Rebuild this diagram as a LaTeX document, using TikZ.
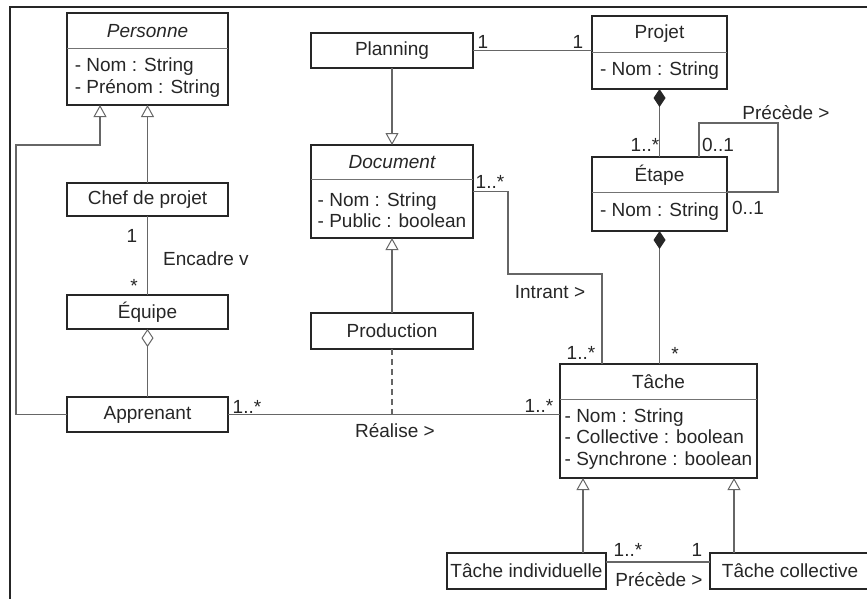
\documentclass[tikz,border=0pt]{standalone}
\usepackage{fontspec}
\setmainfont{Liberation Sans}
\usetikzlibrary{arrows.meta,calc}
\newcommand\mydiagfont{\fontsize{19}{21.5}\selectfont}
\begin{document}
\begin{tikzpicture}[x=1pt,y=-1pt,
  font=\mydiagfont,
  box/.style={draw=black!85, line width=1.7pt, rectangle, inner sep=0pt, outer sep=0pt, text=black!85},
  txt/.style={inner sep=0pt, text=black!85},
  ttl/.style={txt, font=\mydiagfont\itshape},
  attr/.style={txt, align=left},
  sep/.style={draw=black!55, line width=0.9pt},
  conn/.style={draw=black!60, line width=1.1pt},
  gen/.style={conn, -{Triangle[open, length=12pt, width=13pt, line width=1pt]}},
  comp/.style={conn, -{Diamond[length=18pt, width=12pt, color=black!85, fill=black!85]}},
  agg/.style={conn, -{Diamond[open, length=18pt, width=12pt, line width=1pt]}},
  lbl/.style={txt}]
\useasboundingbox (0,0) rectangle (867,598);
% frame
\draw[line width=2pt, black!85] (10,602) -- (10,7) -- (872,7);

% classes
\node[box, minimum width=161pt, minimum height=92pt] (pers) at (147.5,59) {};
\draw[sep] (pers.west |- 0,48) -- (pers.east |- 0,48);
\node[ttl] (persT) at (147.5,31) {Personne};
\node[attr] (persA) at (147.5,77.5) {- Nom : String\\- Prénom : String};

\node[box, minimum width=161pt, minimum height=33pt] (chef) at (147.5,199.5) {Chef de projet};
\node[box, minimum width=161pt, minimum height=34pt] (equipe) at (147.5,312) {Équipe};
\node[box, minimum width=161pt, minimum height=35pt] (app) at (147.5,414.5) {Apprenant};

\node[box, minimum width=162pt, minimum height=35pt] (plan) at (392,50.5) {Planning};
\node[box, minimum width=162pt, minimum height=93pt] (doc) at (392,191.5) {};
\draw[sep] (doc.west |- 0,179) -- (doc.east |- 0,179);
\node[ttl] (docT) at (392,162) {Document};
\node[attr] (docA) at (392,210) {- Nom : String\\- Public : boolean};
\node[box, minimum width=162pt, minimum height=36pt] (prod) at (392,331) {Production};

\node[box, minimum width=135pt, minimum height=73pt] (projet) at (659.5,52.5) {};
\draw[sep] (projet.west |- 0,52) -- (projet.east |- 0,52);
\node[txt] (projetT) at (659.5,34) {Projet};
\node[attr] (projetA) at (659.5,71) {- Nom : String};

\node[box, minimum width=135pt, minimum height=74pt] (etape) at (659.5,194) {};
\draw[sep] (etape.west |- 0,192) -- (etape.east |- 0,192);
\node[txt] (etapeT) at (659.5,175) {Étape};
\node[attr] (etapeA) at (659.5,212) {- Nom : String};

\node[box, minimum width=197pt, minimum height=114pt] (tache) at (658.5,421) {};
\draw[sep] (tache.west |- 0,399) -- (tache.east |- 0,399);
\node[txt] (tacheT) at (658.5,382) {Tâche};
\node[attr] (tacheA) at (658.5,439) {- Nom : String\\- Collective : boolean\\- Synchrone : boolean};

\node[box, minimum width=159pt, minimum height=36pt] (ti) at (526.5,571) {Tâche individuelle};
\node[box, minimum width=160pt, minimum height=36pt] (tc) at (790,571) {Tâche collective};

% connectors
\draw[gen] (chef.north) -- (chef.north |- pers.south);
\coordinate (g1) at (16,145);
\coordinate (g2) at (100,145);
\draw[gen] (app.west) -| (g1) -- (g2) -- (g2 |- pers.south);
\draw[conn] (chef.south) -- (equipe.north);
\draw[agg] (app.north) -- (equipe.south);
\draw[conn] (app.east) -- (app.east -| tache.west);
\draw[conn, dashed, dash pattern=on 6pt off 4pt] (prod.south) -- (prod.south |- app.east);

\draw[conn] (plan.east) -- (plan.east -| projet.west);
\draw[gen] (plan.south) -- (doc.north);
\draw[gen] (prod.north) -- (doc.south);

\coordinate (i1) at (508,274);
\coordinate (i2) at (602,274);
\draw[conn] (doc.east) -| (i1) -- (i2) -- (i2 |- tache.north);

\draw[comp] (etape.north) -- (projet.south);
\coordinate (s1) at (699,123);
\coordinate (s2) at (778,123);
\coordinate (s3) at (778,192);
\draw[conn] (s1 |- etape.north) -- (s1) -- (s2) -- (s3) -- (s3 -| etape.east);
\draw[comp] (tache.north -| etape.south) -- (etape.south);

\coordinate (t1) at (583,553);
\coordinate (t2) at (734,553);
\draw[gen] (t1) -- (t1 |- tache.south);
\draw[gen] (t2) -- (t2 |- tache.south);
\coordinate (p1) at (606,562);
\draw[conn] (p1) -- (p1 -| tc.west);

% labels
\node[lbl] (l1) at (483,42) {1};
\node[lbl] (l2) at (578,42) {1};
\node[lbl] (l3) at (490,182) {1..*};
\node[lbl] (l4) at (550,292) {Intrant >};
\node[lbl] (l5) at (581,353) {1..*};
\node[lbl] (l6) at (675,354) {*};
\node[lbl] (l7) at (539,406) {1..*};
\node[lbl] (l8) at (395,431) {Réalise >};
\node[lbl] (l9) at (247,407) {1..*};
\node[lbl] (l10) at (132,236) {1};
\node[lbl] (l11) at (134,286) {*};
\node[lbl] (l12) at (206,259) {Encadre v};
\node[lbl] (l13) at (786,113) {Précède >};
\node[lbl] (l14) at (645,145) {1..*};
\node[lbl] (l15) at (718,145) {0..1};
\node[lbl] (l16) at (748,208) {0..1};
\node[lbl] (l17) at (628,550) {1..*};
\node[lbl] (l18) at (697,550) {1};
\node[lbl] (l19) at (659,580) {Précède >};
\end{tikzpicture}
\end{document}
